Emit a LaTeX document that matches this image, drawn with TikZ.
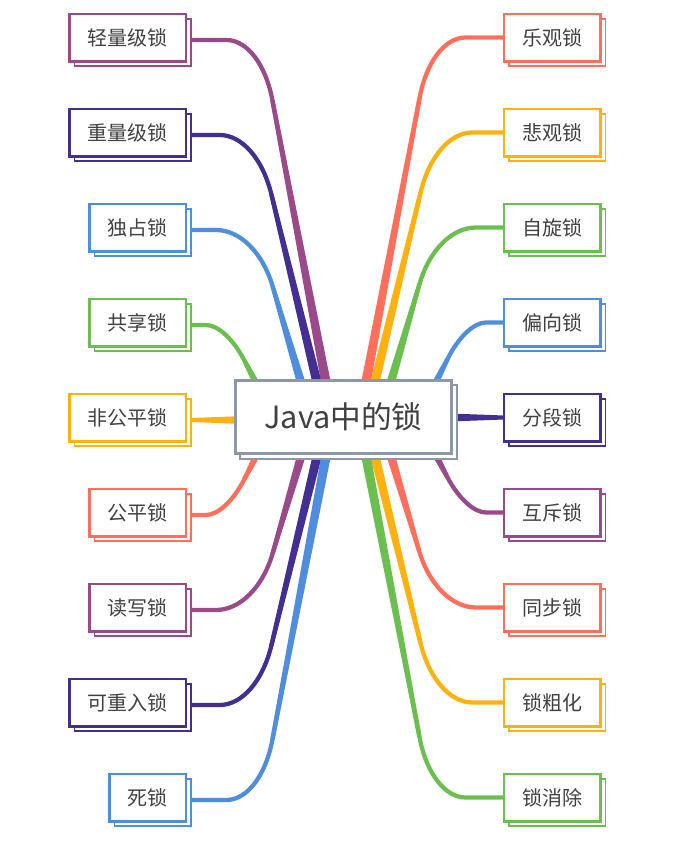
\documentclass[tikz,border=0pt]{standalone}
\usepackage{fontspec}
\setmainfont{Noto Sans CJK SC}
\usetikzlibrary{calc}
\pgfdeclarelayer{bg}
\pgfdeclarelayer{sh}
\pgfsetlayers{bg,sh,main}
\definecolor{cpur}{HTML}{9A4A88}
\definecolor{cind}{HTML}{432F92}
\definecolor{cblu}{HTML}{4F8EDC}
\definecolor{cgrn}{HTML}{6BBF4E}
\definecolor{corg}{HTML}{FFB20F}
\definecolor{cred}{HTML}{FF6F5C}
\definecolor{cgry}{HTML}{8C97A8}
\definecolor{ctext}{HTML}{404040}
\tikzset{
  leaf/.style={draw=#1, line width=1.8pt, fill=white, outer sep=0pt,
    inner xsep=13.7pt, inner ysep=0pt, minimum height=35.7pt, text=ctext,
    font=\fontsize{15pt}{18pt}\selectfont},
  leafl/.style={leaf=#1, anchor=east},
  leafr/.style={leaf=#1, anchor=west},
  shadowbox/.style={draw=#1, line width=1.4pt, fill=white},
  hub/.style={draw=cgry, line width=1.95pt, fill=white, outer sep=0pt,
    minimum width=162.4pt, minimum height=55.1pt, text=ctext,
    font=\fontsize{23pt}{27pt}\selectfont},
}
% #1 colour, #2 end at leaf, #3 bend corner, #4 start inside hub, #5/#6 bend extents
\newcommand\lockbranch[6]{%
  \coordinate (tmpA) at ($(#3)!#5!(#2)$);
  \coordinate (tmpB) at ($(#3)!#6!(#4)$);
  \draw[line width=3.2pt, draw=#1] (#2) -- (tmpA)
    .. controls ($(tmpA)!0.6!(#3)$) and ($(tmpB)!0.6!(#3)$) .. (tmpB) -- (#4);
  \fill[#1] ($(#4)!3.8pt!90:(tmpB)$) -- ($(#4)!3.8pt!-90:(tmpB)$)
    -- ($(tmpB)!1.6pt!90:(#4)$) -- ($(tmpB)!1.6pt!-90:(#4)$) -- cycle;
}
\newcommand\leafshadow[2]{%
  \draw[shadowbox=#2] ($(#1.south west)+(5,5)$) rectangle ($(#1.north east)+(5,5)$);
}
\begin{document}
\begin{tikzpicture}[x=0.75pt, y=-0.75pt]
\useasboundingbox (0,0) rectangle (679,847);
% center
\node[hub] (C) at (343.5,417) {Java中的锁};
% left nodes
\node[leafl=cpur] (L1) at (186,37.5) {轻量级锁};
\node[leafl=cind] (L2) at (186,132.5) {重量级锁};
\node[leafl=cblu] (L3) at (186,227.5) {独占锁};
\node[leafl=cgrn] (L4) at (186,322.5) {共享锁};
\node[leafl=corg] (L5) at (186,417.5) {非公平锁};
\node[leafl=cred] (L6) at (186,512.5) {公平锁};
\node[leafl=cpur] (L7) at (186,607.5) {读写锁};
\node[leafl=cind] (L8) at (186,702.5) {可重入锁};
\node[leafl=cblu] (L9) at (186,797.5) {死锁};
% right nodes
\node[leafr=cred] (R1) at (504,37.5) {乐观锁};
\node[leafr=corg] (R2) at (504,132.5) {悲观锁};
\node[leafr=cgrn] (R3) at (504,227.5) {自旋锁};
\node[leafr=cblu] (R4) at (504,322.5) {偏向锁};
\node[leafr=cind] (R5) at (504,417.5) {分段锁};
\node[leafr=cpur] (R6) at (504,512.5) {互斥锁};
\node[leafr=cred] (R7) at (504,607.5) {同步锁};
\node[leafr=corg] (R8) at (504,702.5) {锁粗化};
\node[leafr=cgrn] (R9) at (504,797.5) {锁消除};
% shadows
\begin{pgfonlayer}{sh}
\draw[shadowbox=cgry, line width=1.6pt] ($(C.south west)+(5,5)$) rectangle ($(C.north east)+(5,5)$);
\leafshadow{L1}{cpur}\leafshadow{L2}{cind}\leafshadow{L3}{cblu}
\leafshadow{L4}{cgrn}\leafshadow{L5}{corg}\leafshadow{L6}{cred}
\leafshadow{L7}{cpur}\leafshadow{L8}{cind}\leafshadow{L9}{cblu}
\leafshadow{R1}{cred}\leafshadow{R2}{corg}\leafshadow{R3}{cgrn}
\leafshadow{R4}{cblu}\leafshadow{R5}{cind}\leafshadow{R6}{cpur}
\leafshadow{R7}{cred}\leafshadow{R8}{corg}\leafshadow{R9}{cgrn}
\end{pgfonlayer}
% branches
\begin{pgfonlayer}{bg}
\foreach \i in {1,...,9} {\coordinate (EL\i) at ($(L\i.east)+(5,2.5)$);}
\foreach \i in {1,...,9} {\coordinate (ER\i) at (R\i.west);}
% left
\coordinate (KL1) at (261,40);  \coordinate (SL1) at (333,419.5);
\coordinate (KL2) at (257,135); \coordinate (SL2) at (326,419.5);
\coordinate (KL3) at (256,230); \coordinate (SL3) at (312,419.5);
\coordinate (KL4) at (226,325); \coordinate (SL4) at (275,419.5);
\coordinate (KL6) at (226,515); \coordinate (SL6) at (275,419.5);
\coordinate (KL7) at (256,610); \coordinate (SL7) at (312,419.5);
\coordinate (KL8) at (257,705); \coordinate (SL8) at (326,419.5);
\coordinate (KL9) at (261,800); \coordinate (SL9) at (333,419.5);
\lockbranch{cpur}{EL1}{KL1}{SL1}{26pt}{46pt}
\lockbranch{cind}{EL2}{KL2}{SL2}{28pt}{46pt}
\lockbranch{cblu}{EL3}{KL3}{SL3}{30pt}{44pt}
\lockbranch{cgrn}{EL4}{KL4}{SL4}{15pt}{30pt}
\lockbranch{cred}{EL6}{KL6}{SL6}{15pt}{30pt}
\lockbranch{cpur}{EL7}{KL7}{SL7}{30pt}{44pt}
\lockbranch{cind}{EL8}{KL8}{SL8}{28pt}{46pt}
\lockbranch{cblu}{EL9}{KL9}{SL9}{26pt}{46pt}
% right
\coordinate (KR1) at (431,37.5);  \coordinate (SR1) at (359,419.5);
\coordinate (KR2) at (435,132.5); \coordinate (SR2) at (366,419.5);
\coordinate (KR3) at (436,227.5); \coordinate (SR3) at (380,419.5);
\coordinate (KR4) at (466,322.5); \coordinate (SR4) at (417,419.5);
\coordinate (KR6) at (466,512.5); \coordinate (SR6) at (417,419.5);
\coordinate (KR7) at (436,607.5); \coordinate (SR7) at (380,419.5);
\coordinate (KR8) at (435,702.5); \coordinate (SR8) at (366,419.5);
\coordinate (KR9) at (431,797.5); \coordinate (SR9) at (359,419.5);
\lockbranch{cred}{ER1}{KR1}{SR1}{26pt}{46pt}
\lockbranch{corg}{ER2}{KR2}{SR2}{28pt}{46pt}
\lockbranch{cgrn}{ER3}{KR3}{SR3}{30pt}{44pt}
\lockbranch{cblu}{ER4}{KR4}{SR4}{15pt}{30pt}
\lockbranch{cpur}{ER6}{KR6}{SR6}{15pt}{30pt}
\lockbranch{cred}{ER7}{KR7}{SR7}{30pt}{44pt}
\lockbranch{corg}{ER8}{KR8}{SR8}{28pt}{46pt}
\lockbranch{cgrn}{ER9}{KR9}{SR9}{26pt}{46pt}
% middle wedges
\coordinate (SL5) at (245,420);
\coordinate (SR5) at (450,417.5);
\fill[corg] ($(EL5)+(0,-2)$) -- ($(SL5)+(0,-4)$) -- ($(SL5)+(0,4)$) -- ($(EL5)+(0,2)$) -- cycle;
\fill[cind] ($(ER5)+(0,-2)$) -- ($(SR5)+(0,-4)$) -- ($(SR5)+(0,4)$) -- ($(ER5)+(0,2)$) -- cycle;
\end{pgfonlayer}
\end{tikzpicture}
\end{document}
